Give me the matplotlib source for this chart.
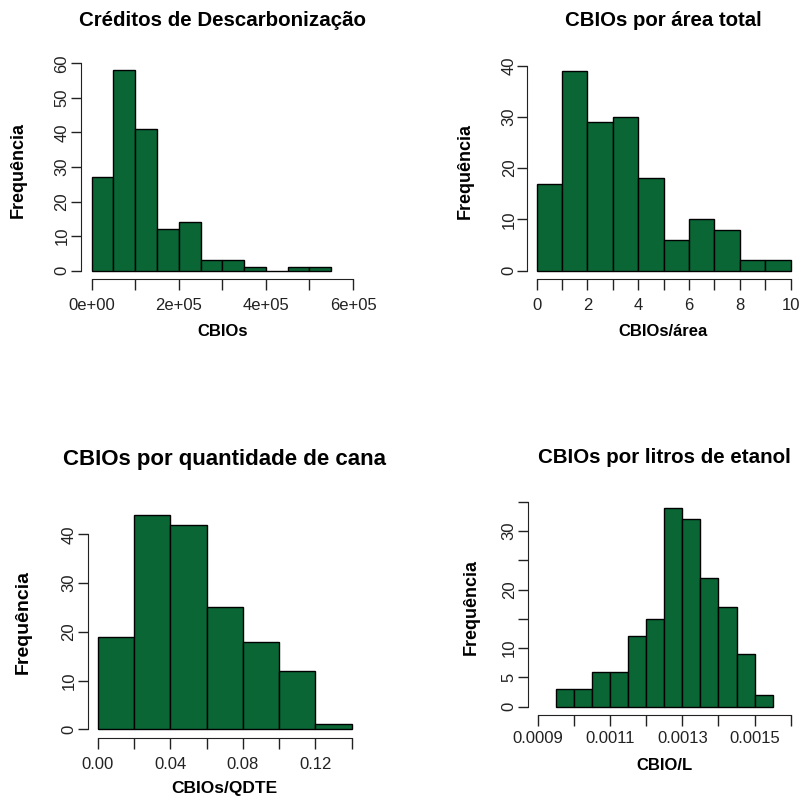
import numpy as np
import matplotlib
matplotlib.use('Agg')
from matplotlib import pyplot as plt

plt.rcParams['font.family'] = ['Liberation Sans', 'DejaVu Sans']

# counts
cbio_edges = np.arange(0, 550001, 50000)
cbio_counts = [27, 58, 41, 12, 14, 3, 3, 1, 0, 1, 1]

area_edges = np.arange(0, 11, 1)
area_counts = [17, 39, 29, 30, 18, 6, 10, 8, 2, 2]

qdte_edges = np.arange(0, 0.1401, 0.02)
qdte_counts = [19, 44, 42, 25, 18, 12, 1]

litro_edges = np.arange(0.00095, 0.001551, 0.00005)
litro_counts = [3, 3, 6, 6, 12, 15, 34, 32, 22, 17, 9, 2]

green = '#0b6636'
W, H = 800, 798

fig = plt.figure(figsize=(W / 100, H / 100), dpi=100)


def panel(left, right, top, bottom, edges, counts, xlim, ylim, xticks, xlabels,
          yticks, ylabels, title, xlab, title_y, title_size, ylab_x, xlab_y,
          xtl_pad, ytl_pad, xlab_size=12, ylab_size=13):
    ax = fig.add_axes([left / W, 1 - bottom / H, (right - left) / W, (bottom - top) / H])
    widths = np.diff(edges)
    ax.bar(edges[:-1], counts, width=widths, align='edge', color=green,
           edgecolor='black', linewidth=1.0, clip_on=False)
    ax.set_xlim(*xlim)
    ax.set_ylim(*ylim)
    for s in ['top', 'right']:
        ax.spines[s].set_visible(False)
    ax.spines['bottom'].set_bounds(xticks[0], xticks[-1])
    ax.spines['left'].set_bounds(yticks[0], yticks[-1])
    ax.spines['bottom'].set_color('#222222')
    ax.spines['left'].set_color('#222222')
    ax.set_xticks(xticks)
    ax.set_xticklabels(xlabels)
    ax.set_yticks(yticks)
    ax.set_yticklabels(ylabels, rotation=90, va='center')
    ax.tick_params(axis='both', width=1.0, color='#222222',
                   labelsize=12, labelcolor='#222222')
    ax.tick_params(axis='x', length=8, pad=xtl_pad)
    ax.tick_params(axis='y', length=7, pad=ytl_pad)
    cx = (left + right) / 2
    fig.text(cx / W, 1 - title_y / H, title, ha='center', va='center',
             fontsize=title_size, fontweight='bold')
    fig.text(ylab_x / W, 1 - (top + bottom) / 2 / H, 'Frequência', rotation=90,
             ha='center', va='center', fontsize=ylab_size, fontweight='bold')
    fig.text(cx / W, 1 - xlab_y / H, xlab, ha='center', va='center',
             fontsize=xlab_size, fontweight='bold')
    return ax


panel(81.2, 363.5, 62.2, 278.7, cbio_edges, cbio_counts,
      (-24000, 624000), (-2.32, 60.32),
      np.arange(0, 600001, 100000),
      ['0e+00', '', '2e+05', '', '4e+05', '', '6e+05'],
      np.arange(0, 61, 10), [str(v) for v in range(0, 61, 10)],
      'Créditos de Descarbonização', 'CBIOs', 20, 14.8, 18, 332, 6, 1.5)

panel(526.5, 800, 62.8, 278.7, area_edges, area_counts,
      (-0.4, 10.366), (-1.56, 40.56),
      np.arange(0, 11, 1),
      ['0', '', '2', '', '4', '', '6', '', '8', '', '10'],
      np.arange(0, 41, 10), [str(v) for v in range(0, 41, 10)],
      'CBIOs por área total', 'CBIOs/área', 20, 14.7, 465, 332, 6, 0)

panel(87.5, 361.9, 506.2, 737.9, qdte_edges, qdte_counts,
      (-0.0056, 0.1456), (-1.76, 45.76),
      np.round(np.arange(0, 0.1401, 0.02), 2),
      ['0.00', '', '0.04', '', '0.08', '', '0.12', ''],
      np.arange(0, 41, 10), [str(v) for v in range(0, 41, 10)],
      'CBIOs por quantidade de cana', 'CBIOs/QDTE', 460, 16, 23, 788, 6, 1,
      xlab_size=12.5, ylab_size=14)

panel(527.9, 800.8, 499.6, 714.7, litro_edges, litro_counts,
      (0.000872, 0.001628), (-1.36, 35.36),
      np.round(np.arange(0.0009, 0.00161, 0.0001), 4),
      ['0.0009', '', '0.0011', '', '0.0013', '', '0.0015', ''],
      np.arange(0, 36, 5), ['0', '5', '10', '', '20', '', '30', ''],
      'CBIOs por litros de etanol', 'CBIO/L', 457, 14.8, 471.7, 765, 4, 1)

fig.savefig('out.png', dpi=100)
